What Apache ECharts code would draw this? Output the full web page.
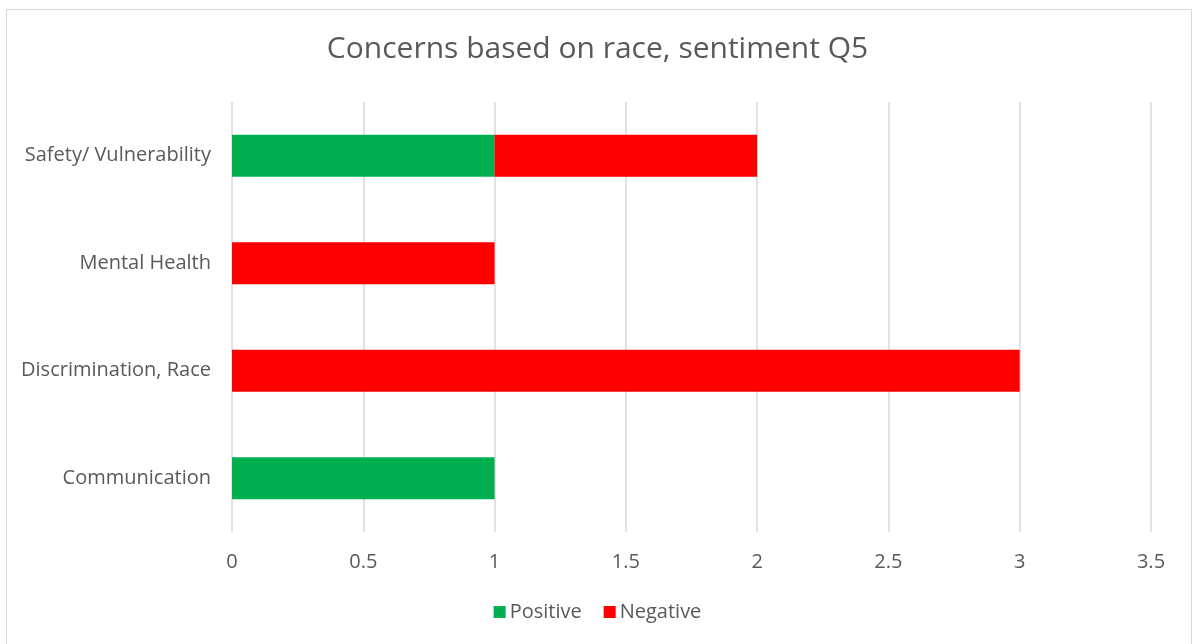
<!DOCTYPE html>
<html>
<head>
<meta charset="utf-8">
<script src="https://cdn.jsdelivr.net/npm/echarts@6/dist/echarts.min.js"></script>
<style>
  html, body { margin: 0; padding: 0; background: #ffffff; }
  #frame { position: absolute; left: 6px; top: 9px; width: 1186px; height: 645px; border: 1px solid #d9d9d9; box-sizing: border-box; }
  #chart { width: 1195px; height: 644px; }
</style>
</head>
<body>
<div id="frame"></div>
<div id="chart"></div>
<script>
// Concern categories, bottom to top
const categories = ['Communication', 'Discrimination, Race', 'Mental Health', 'Safety/ Vulnerability'];
const positiveValues = [1, 0, 0, 1];
const negativeValues = [0, 3, 1, 1];
const xTicks = [0, 0.5, 1, 1.5, 2, 2.5, 3, 3.5];

const FONT = '"Open Sans", sans-serif';
const TEXT = '#595959';

const chart = echarts.init(document.getElementById('chart'));
chart.setOption({
  animation: false,
  title: {
    text: 'Concerns based on race, sentiment Q5',
    left: 'center',
    top: 29,
    textStyle: { fontFamily: FONT, fontSize: 30, fontWeight: 'normal', color: TEXT }
  },
  legend: {
    bottom: 17,
    left: 'center',
    itemWidth: 12,
    itemHeight: 12,
    itemGap: 22,
    icon: 'rect',
    textStyle: { fontFamily: FONT, fontSize: 20, color: TEXT, padding: [0, 0, 0, -1] },
    data: ['Positive', 'Negative']
  },
  grid: { left: 232, right: 44, top: 102, bottom: 112, containLabel: false },
  xAxis: {
    type: 'value',
    min: xTicks[0],
    max: xTicks[xTicks.length - 1],
    interval: 0.5,
    axisLine: { show: false },
    axisTick: { show: false },
    axisLabel: { fontFamily: FONT, fontSize: 20, color: TEXT, margin: 20 },
    splitLine: { show: true, lineStyle: { color: '#d9d9d9', width: 1.5 } }
  },
  yAxis: {
    type: 'category',
    data: categories,
    axisLine: { show: false },
    axisTick: { show: false },
    axisLabel: { fontFamily: FONT, fontSize: 20, color: TEXT, margin: 21 }
  },
  series: [
    {
      name: 'Positive',
      type: 'bar',
      stack: 'total',
      barWidth: 42,
      itemStyle: { color: '#00b050' },
      data: positiveValues
    },
    {
      name: 'Negative',
      type: 'bar',
      stack: 'total',
      barWidth: 42,
      itemStyle: { color: '#ff0000' },
      data: negativeValues
    }
  ]
});
</script>
</body>
</html>
